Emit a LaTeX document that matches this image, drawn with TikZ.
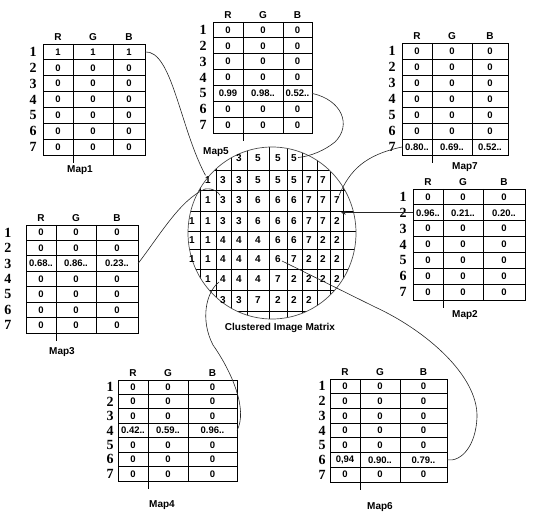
\documentclass[tikz,border=0pt]{standalone}
\usepackage{fontspec}
\setmainfont{Liberation Sans}
\newfontfamily\numfont{Liberation Serif}
\usetikzlibrary{arrows.meta}

% one colour map: name, left, top, right, bottom, filled row, R, G, B
\newcommand{\rowoff}{10}
\newcommand{\maptable}[9]{%
  \draw[tab] (#2,#3) rectangle (#4,#5);
  \draw[tab] (#2+30,#3) -- (#2+30,#5+8);
  \draw[tab] (#2+70,#3) -- (#2+70,#5);
  \node[head] (#1-R) at (#2+15,#3-7) {R};
  \node[head] (#1-G) at (#2+50,#3-7) {G};
  \node[head] (#1-B) at ({(#2+70+#4)/2},#3-7) {B};
  \foreach \r in {1,...,7}{%
    \pgfmathsetmacro{\yc}{#3+(\r-0.5)*(#5-#3)/7}%
    \pgfmathsetmacro{\yt}{#3+(\r-1)*(#5-#3)/7}%
    \ifnum\r>1 \draw[tab] (#2,\yt) -- (#4,\yt);\fi
    \node[rowno] (#1-\r) at (#2-\rowoff,\yc) {\r};
    \coordinate (#1-\r-w) at (#2,\yc);
    \coordinate (#1-\r-e) at (#4,\yc);
    \ifnum\r=#6
      \node[val] (#1-\r-a) at (#2+15,\yc) {#7};
      \node[val] (#1-\r-b) at (#2+50,\yc) {#8};
      \node[val] (#1-\r-c) at ({(#2+70+#4)/2},\yc) {#9};
    \else
      \node[val] (#1-\r-a) at (#2+15,\yc) {0};
      \node[val] (#1-\r-b) at (#2+50,\yc) {0};
      \node[val] (#1-\r-c) at ({(#2+70+#4)/2},\yc) {0};
    \fi
  }%
}

\begin{document}
\begin{tikzpicture}[x=1pt, y=-1pt,
  tab/.style={line width=0.8pt},
  head/.style={font=\bfseries\fontsize{10}{10}\selectfont, inner sep=0pt},
  val/.style={font=\bfseries\fontsize{9.5}{10}\selectfont, inner sep=0.5pt},
  rowno/.style={font=\numfont\bfseries\fontsize{14}{14}\selectfont, inner sep=0pt},
  title/.style={font=\bfseries\fontsize{10}{10}\selectfont},
  cell/.style={font=\bfseries\fontsize{10}{10}\selectfont, inner sep=1pt},
  link/.style={line width=0.6pt, black!85}]
\useasboundingbox (0,0) rectangle (536,513);

% the seven maps
\maptable{map1}{43}{44}{145}{155}{1}{1}{1}{1}
\maptable{map5}{213}{22}{312}{133}{5}{0.99}{0.98..}{0.52..}
\maptable{map7}{402}{43}{508}{155}{7}{0.80..}{0.69..}{0.52..}
\maptable{map2}{413}{189}{525}{300}{2}{0.96..}{0.21..}{0.20..}
\renewcommand{\rowoff}{18}
\maptable{map3}{26}{225}{138}{333}{3}{0.68..}{0.86..}{0.23..}
\renewcommand{\rowoff}{8}
\maptable{map4}{118}{380}{237}{481}{4}{0.42..}{0.59..}{0.96..}
\maptable{map6}{330}{379}{447}{482}{6}{0,94}{0.90..}{0.79..}

\node[title] (lab1) at (80,170) {Map1};
\node[title] (lab5) at (216,152) {Map5};
\node[title] (lab7) at (465,167) {Map7};
\node[title] (lab2) at (465,315) {Map2};
\node[title] (lab3) at (62,352) {Map3};
\node[title] (lab4) at (162,505) {Map4};
\node[title] (lab6) at (380,507) {Map6};

% clustered matrix
\begin{scope}
  \clip (272,233) ellipse [x radius=84, y radius=86];
  \foreach \x in {200,216,231,247,269,287,302,317,330,343}
    \draw[tab] (\x,140) -- (\x,330);
  \foreach \y in {170,190,211,231,249,269,290,311}
    \draw[tab] (180,\y) -- (365,\y);
\end{scope}
\draw[line width=0.7pt, black!70] (272,233) ellipse [x radius=84, y radius=86];

\def\colx{{192,208,223,239,258,278,294,309,323,337}}
\def\rowy{{158,180,200,221,240,259,279,300}}
\foreach \row/\first/\vals in {0/3/{3,5,5,5}, 1/1/{1,3,3,5,5,5,7,7},
    2/1/{1,3,3,6,6,6,7,7,7}, 3/0/{1,1,3,3,6,6,6,7,7,2},
    4/0/{1,1,4,4,4,6,6,7,2,2}, 5/0/{1,1,4,4,4,6,7,2,2,2},
    6/1/{1,4,4,4,7,2,2,2,2}, 7/2/{3,3,7,2,2,2}}
  \foreach \v [count=\k from \first] in \vals {
    \pgfmathsetmacro{\xx}{\colx[\k]}
    \pgfmathsetmacro{\yy}{\rowy[\row]}
    \node[cell] (m-\row-\k) at (\xx,\yy) {\v};
  }
\node[title] (labc) at (280,328) {Clustered Image Matrix};

% links from the maps to their clusters
\draw[link] (map1-1-e) .. controls (172,50) and (180,128) .. (m-1-1);
\draw[link] (map5-5-e) .. controls (342,100) and (352,125) .. (335,142)
  .. controls (325,150) and (312,156) .. (m-0-6);
\draw[link] (map7-7-w) .. controls (365,155) and (350,170) .. (m-2-9);
\draw[link, -{Stealth[length=5pt]}] (map2-2-w) -- (m-3-9.east |- map2-2-w);
\draw[link] (map3-3-e) .. controls (160,235) and (180,200) .. (205,189)
  .. controls (214,188) and (218,192) .. (m-2-2);
\draw[link] (map4-4-e) .. controls (248,410) and (232,372) .. (213,345)
  .. controls (200,320) and (206,292) .. (m-6-2);
\draw[link] (m-5-5) -- (375,307) .. controls (425,330) and (478,375) .. (477,417)
  .. controls (476,445) and (462,462) .. (map6-6-e);
\end{tikzpicture}
\end{document}
